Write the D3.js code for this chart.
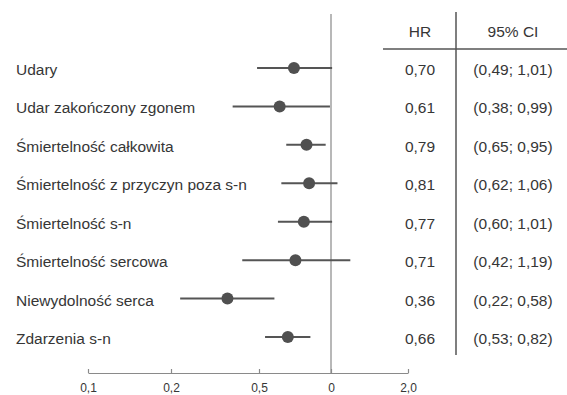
<!DOCTYPE html>
<html>
<head>
<meta charset="utf-8">
<script src="https://cdn.jsdelivr.net/npm/d3@7"></script>
<style>
  html, body { margin: 0; padding: 0; background: #fff; }
  svg { display: block; font-family: "Liberation Sans", Arial, sans-serif; }
</style>
</head>
<body>
<svg id="chart" width="567" height="395"></svg>
<script>
const categories = [
  "Udary",
  "Udar zakończony zgonem",
  "Śmiertelność całkowita",
  "Śmiertelność z przyczyn poza s-n",
  "Śmiertelność s-n",
  "Śmiertelność sercowa",
  "Niewydolność serca",
  "Zdarzenia s-n"
];
const hr    = [0.70, 0.61, 0.79, 0.81, 0.77, 0.71, 0.36, 0.66];
const lower = [0.49, 0.38, 0.65, 0.62, 0.60, 0.42, 0.22, 0.53];
const upper = [1.01, 0.99, 0.95, 1.06, 1.01, 1.19, 0.58, 0.82];
const hrLabels = ["0,70", "0,61", "0,79", "0,81", "0,77", "0,71", "0,36", "0,66"];
const ciLabels = ["(0,49; 1,01)", "(0,38; 0,99)", "(0,65; 0,95)", "(0,62; 1,06)",
                  "(0,60; 1,01)", "(0,42; 1,19)", "(0,22; 0,58)", "(0,53; 0,82)"];
const tickValues = [0.1, 0.2, 0.5, 1, 2];
const tickLabels = ["0,1", "0,2", "0,5", "0", "2,0"];
const headers = ["HR", "95% CI"];

const svg = d3.select("#chart");
const textColor = "#363636";
const markColor = "#555555";

// piecewise log scale through the tick positions of the original
const x = d3.scaleLog()
  .domain(tickValues)
  .range([88, 171, 259, 331, 408]);

const y = d3.scalePoint()
  .domain(d3.range(categories.length))
  .range([68, 337]);

const axisY = 373;

// reference line at HR = 1
svg.append("line")
  .attr("x1", x(1)).attr("x2", x(1))
  .attr("y1", 14).attr("y2", axisY)
  .attr("stroke", "#a0a0a0").attr("stroke-width", 1.5);

// bottom axis
const axis = d3.axisBottom(x)
  .tickValues(tickValues)
  .tickFormat((d, i) => tickLabels[i])
  .tickSize(-4)
  .tickSizeOuter(0)
  .tickPadding(10);

const gAxis = svg.append("g")
  .attr("transform", `translate(0,${axisY})`)
  .call(axis);
gAxis.select(".domain").attr("stroke", "#8a8a8a").attr("stroke-width", 1.2);
gAxis.selectAll(".tick line").attr("stroke", "#8a8a8a").attr("stroke-width", 1.2);
gAxis.selectAll(".tick text")
  .attr("fill", textColor)
  .style("font-family", "'Liberation Sans', Arial, sans-serif")
  .style("font-size", "12px");

// rows
const rows = svg.append("g").selectAll("g")
  .data(categories)
  .join("g");

rows.append("text")
  .attr("x", 16)
  .attr("y", (d, i) => y(i) + 7)
  .attr("fill", textColor)
  .style("font-size", "15.5px")
  .text(d => d);

rows.append("line")
  .attr("x1", (d, i) => x(lower[i]))
  .attr("x2", (d, i) => x(upper[i]))
  .attr("y1", (d, i) => y(i))
  .attr("y2", (d, i) => y(i))
  .attr("stroke", markColor)
  .attr("stroke-width", 2);

rows.append("circle")
  .attr("cx", (d, i) => x(hr[i]))
  .attr("cy", (d, i) => y(i))
  .attr("r", 6)
  .attr("fill", "#505050");

// table
const hrX = 420, ciX = 513;
svg.append("text")
  .attr("x", hrX).attr("y", 37)
  .attr("text-anchor", "middle")
  .attr("fill", textColor)
  .style("font-size", "15.5px")
  .text(headers[0]);
svg.append("text")
  .attr("x", ciX).attr("y", 37)
  .attr("text-anchor", "middle")
  .attr("fill", textColor)
  .style("font-size", "15.5px")
  .text(headers[1]);

svg.append("line")
  .attr("x1", 383).attr("x2", 567)
  .attr("y1", 49).attr("y2", 49)
  .attr("stroke", "#555").attr("stroke-width", 1.5);
svg.append("line")
  .attr("x1", 456).attr("x2", 456)
  .attr("y1", 12).attr("y2", 355)
  .attr("stroke", "#555").attr("stroke-width", 1.5);

rows.append("text")
  .attr("x", hrX)
  .attr("y", (d, i) => y(i) + 7)
  .attr("text-anchor", "middle")
  .attr("fill", textColor)
  .style("font-size", "15.5px")
  .text((d, i) => hrLabels[i]);

rows.append("text")
  .attr("x", ciX)
  .attr("y", (d, i) => y(i) + 7)
  .attr("text-anchor", "middle")
  .attr("fill", textColor)
  .style("font-size", "15.5px")
  .text((d, i) => ciLabels[i]);
</script>
</body>
</html>
